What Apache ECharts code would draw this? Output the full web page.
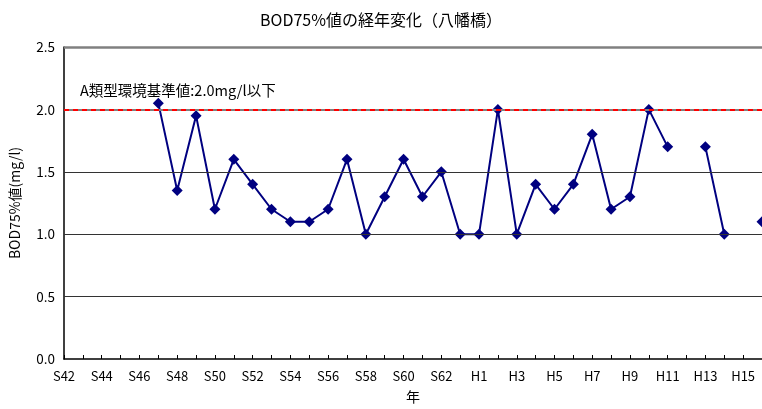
<!DOCTYPE html>
<html><head><meta charset="utf-8">
<script src="https://cdn.jsdelivr.net/npm/echarts@6/dist/echarts.min.js"></script>
<style>html,body{margin:0;padding:0;background:#fff}#c{width:762px;height:409px}</style>
</head><body><div id="c"></div>
<script>
const categories = ['S42','S43','S44','S45','S46','S47','S48','S49','S50','S51','S52','S53','S54','S55','S56','S57','S58','S59','S60','S61','S62','S63',
  'H1','H2','H3','H4','H5','H6','H7','H8','H9','H10','H11','H12','H13','H14','H15','H16'];
const bod75 = [null,null,null,null,null,2.05,1.35,1.95,1.2,1.6,1.4,1.2,1.1,1.1,1.2,1.6,1.0,1.3,1.6,1.3,1.5,1.0,
  1.0,2.0,1.0,1.4,1.2,1.4,1.8,1.2,1.3,2.0,1.7,null,1.7,1.0,null,1.1];
const standardValue = 2.0;
const standardLabel = 'A類型環境基準値:2.0mg/l以下';
const yTicks = [0, 0.5, 1.0, 1.5, 2.0, 2.5];

const font = '"Noto Sans CJK JP", "Liberation Sans", sans-serif';
const chart = echarts.init(document.getElementById('c'));
chart.setOption({
  animation: false,
  textStyle: { fontFamily: font },
  title: { text: 'BOD75%値の経年変化（八幡橋）', left: 'center', top: 7,
    textStyle: { fontSize: 16, fontWeight: 'normal', color: '#000', fontFamily: font } },
  grid: { left: 62, top: 47, height: 313, width: 19 * (categories.length - 1) },
  graphic: [{ type: 'text', left: 80, top: 83,
    style: { text: standardLabel, fontSize: 14.5, fill: '#000', fontFamily: font } }],
  xAxis: {
    type: 'category', data: categories, boundaryGap: false,
    name: '年', nameLocation: 'middle', nameGap: 31,
    nameTextStyle: { fontSize: 14, color: '#000', fontFamily: font },
    axisLine: { lineStyle: { color: '#000', width: 1.5 } },
    axisTick: { inside: true, length: 4, interval: 0, lineStyle: { color: '#000' } },
    axisLabel: { interval: 1, color: '#000', fontSize: 13, margin: 11, fontFamily: font },
    splitLine: { show: false }
  },
  yAxis: {
    type: 'value', min: 0, max: 2.5, interval: 0.5,
    name: 'BOD75%値(mg/l)', nameLocation: 'middle', nameGap: 42, nameRotate: 90,
    nameTextStyle: { fontSize: 14, color: '#000', fontFamily: font },
    axisLine: { show: true, lineStyle: { color: '#000', width: 1.5 } },
    axisTick: { show: false },
    axisLabel: { color: '#000', fontSize: 13.5, margin: 9, fontFamily: font,
      formatter: v => v.toFixed(1) },
    splitLine: { show: false }
  },
  series: [{
    type: 'line', data: bod75, connectNulls: false,
    symbol: 'diamond', symbolSize: 11,
    lineStyle: { color: '#000080', width: 2 },
    itemStyle: { color: '#000080' },
    markLine: { silent: true, symbol: 'none', label: { show: false },
      data: [
        { yAxis: 0.5, lineStyle: { color: '#333', type: 'solid', width: 1 } },
        { yAxis: 1.0, lineStyle: { color: '#333', type: 'solid', width: 1 } },
        { yAxis: 1.5, lineStyle: { color: '#333', type: 'solid', width: 1 } },
        { yAxis: 2.0, lineStyle: { color: '#808080', type: 'solid', width: 2 } },
        { yAxis: 2.5, lineStyle: { color: '#808080', type: 'solid', width: 2.5 } },
        { yAxis: standardValue, lineStyle: { color: '#ff0000', type: [5, 4], width: 2 } }
      ] },
    z: 3
  }]
});
</script></body></html>
